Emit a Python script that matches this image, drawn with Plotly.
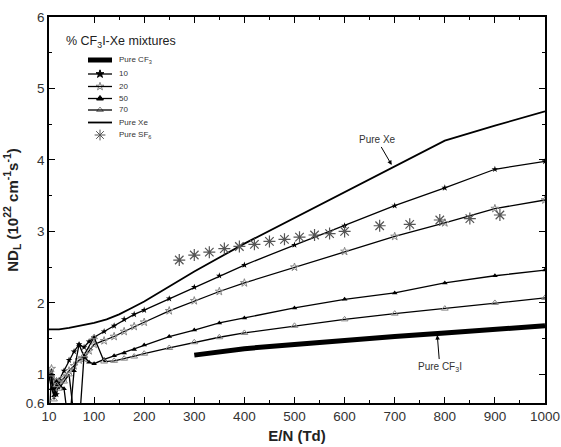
import plotly.graph_objects as go

# ---------------- data ----------------
x_10 = [10, 15, 20, 25, 30, 40, 50, 60, 70, 80, 90, 100, 120, 140, 160, 180, 200,
        250, 300, 350, 400, 500, 600, 700, 800, 900, 1000]
y_10 = [1.00, 0.98, 0.80, 0.72, 0.92, 1.05, 1.20, 1.32, 1.42, 1.38, 1.46, 1.52, 1.60, 1.68, 1.77, 1.84, 1.90,
        2.06, 2.22, 2.38, 2.53, 2.81, 3.08, 3.36, 3.61, 3.87, 3.98]

x_20 = [10, 15, 20, 25, 30, 40, 50, 60, 70, 80, 90, 100, 120, 140, 160, 180, 200,
        250, 300, 350, 400, 500, 600, 700, 800, 900, 1000]
y_20 = [0.95, 1.08, 0.92, 0.90, 0.88, 0.95, 1.05, 1.12, 1.20, 1.22, 1.33, 1.42, 1.47, 1.53, 1.60, 1.67, 1.73,
        1.89, 2.03, 2.16, 2.28, 2.50, 2.72, 2.93, 3.12, 3.32, 3.44]

x_50 = [10, 15, 20, 25, 30, 40, 50, 60, 70, 80, 90, 100, 120, 140, 160, 180, 200,
        250, 300, 350, 400, 500, 600, 700, 800, 900, 1000]
y_50 = [0.98, 0.80, 0.70, 0.90, 0.85, 0.80, 0.25, 1.05, 1.42, 1.25, 1.17, 1.15, 1.21, 1.26, 1.30, 1.35, 1.41,
        1.53, 1.62, 1.72, 1.79, 1.93, 2.05, 2.14, 2.28, 2.38, 2.46]

x_70 = [10, 15, 20, 25, 30, 40, 50, 60, 70, 80, 100, 120, 140, 160, 180, 200,
        250, 300, 350, 400, 500, 600, 700, 800, 900, 1000]
y_70 = [0.30, 1.00, 0.65, 0.85, 0.80, 0.90, 1.00, 0.40, 0.25, 1.27, 1.52, 1.18, 1.19, 1.22, 1.25, 1.29,
        1.37, 1.45, 1.52, 1.58, 1.68, 1.77, 1.85, 1.92, 2.00, 2.07]

x_xe = [10, 30, 50, 75, 100, 125, 150, 175, 200, 250, 300, 400, 500, 600, 700, 800, 900, 1000]
y_xe = [1.63, 1.63, 1.65, 1.68, 1.72, 1.77, 1.84, 1.93, 2.02, 2.23, 2.44, 2.83, 3.19, 3.55, 3.92, 4.27, 4.48, 4.68]

x_cf3i = [300, 350, 400, 500, 600, 700, 800, 900, 1000]
y_cf3i = [1.27, 1.32, 1.36, 1.42, 1.48, 1.53, 1.58, 1.63, 1.68]

x_sf6 = [270, 300, 330, 360, 390, 420, 450, 480, 510, 540, 570, 600, 670, 730, 790, 850, 910]
y_sf6 = [2.60, 2.67, 2.71, 2.76, 2.79, 2.82, 2.86, 2.89, 2.92, 2.95, 2.97, 3.00, 3.08, 3.10, 3.16, 3.18, 3.23]

x_ticks = [10, 100, 200, 300, 400, 500, 600, 700, 800, 900, 1000]
x_minor = [150, 250, 350, 450, 550, 650, 750, 850, 950]
y_ticks = [0.6, 1, 2, 3, 4, 5, 6]
y_minor = [1.5, 2.5, 3.5, 4.5, 5.5]

legend_labels = ["Pure CF<sub>3</sub>", "10", "20", "50", "70", "Pure Xe", "Pure SF<sub>6</sub>"]

# ---------------- figure ----------------
FONT = "Arial, Liberation Sans, sans-serif"
W, H = 561, 447
L, T = 49, 17
pw, ph = 496, 386
R, B = W - L - pw, H - T - ph

def px2paper(px, py):
    """page pixel -> paper coordinate"""
    return (px - L) / pw, (T + ph - py) / ph

fig = go.Figure()

line_k = dict(color="black", width=1.3)
fig.add_trace(go.Scatter(x=x_10, y=y_10, mode="lines+markers", line=line_k,
                         marker=dict(symbol="star", size=5, color="black"), showlegend=False))
fig.add_trace(go.Scatter(x=x_20, y=y_20, mode="lines+markers", line=line_k,
                         marker=dict(symbol="star-open", size=6, color="#888", line=dict(width=1)), showlegend=False))
fig.add_trace(go.Scatter(x=x_50, y=y_50, mode="lines+markers", line=line_k,
                         marker=dict(symbol="triangle-up", size=5, color="black"), showlegend=False))
fig.add_trace(go.Scatter(x=x_70, y=y_70, mode="lines+markers", line=line_k,
                         marker=dict(symbol="triangle-up-open", size=6, color="#888", line=dict(width=1)), showlegend=False))
fig.add_trace(go.Scatter(x=x_xe, y=y_xe, mode="lines", line=dict(color="black", width=1.8), showlegend=False))
fig.add_trace(go.Scatter(x=x_cf3i, y=y_cf3i, mode="lines", line=dict(color="black", width=5), showlegend=False))
fig.add_trace(go.Scatter(x=x_sf6, y=y_sf6, mode="markers",
                         marker=dict(symbol="asterisk-open", size=10, color="#555", line=dict(width=1.2, color="#555")),
                         showlegend=False))

# ---------------- manual legend ----------------
rows_py = [60, 74, 86.5, 98.5, 110, 122.5, 135]
lx0, _ = px2paper(88, 0)
lx1, _ = px2paper(112, 0)
mx, _ = px2paper(100, 0)
tx, _ = px2paper(117, 0)
line_widths = [5, 1.3, 1.3, 1.3, 1.3, 1.8, None]
symbols = [None, "star", "star-open", "triangle-up", "triangle-up-open", None, "asterisk-open"]
mcolors = [None, "black", "#888", "black", "#888", None, "#555"]
msizes = [None, 6, 6, 6, 6, None, 9]
for i, py in enumerate(rows_py):
    _, yy = px2paper(0, py)
    if line_widths[i]:
        fig.add_shape(type="line", xref="paper", yref="paper", x0=lx0, x1=lx1, y0=yy, y1=yy,
                      line=dict(color="black", width=line_widths[i]))
    if symbols[i]:
        fig.add_trace(go.Scatter(x=[mx], y=[yy], xaxis="x2", yaxis="y2", mode="markers",
                                 marker=dict(symbol=symbols[i], size=msizes[i], color=mcolors[i],
                                             line=dict(width=1, color=mcolors[i])),
                                 showlegend=False, hoverinfo="skip"))
    fig.add_annotation(x=tx, y=yy, xref="paper", yref="paper", text=legend_labels[i], showarrow=False,
                       xanchor="left", yanchor="middle", font=dict(family=FONT, size=8, color="#333"))

ttx, tty = px2paper(64, 42)
fig.add_annotation(x=ttx, y=tty, xref="paper", yref="paper", text="% CF<sub>3</sub>I-Xe mixtures",
                   showarrow=False, xanchor="left", yanchor="middle",
                   font=dict(family=FONT, size=12.5, color="#222"))

# ---------------- callouts ----------------
fig.add_annotation(x=694, y=3.93, ax=665, ay=4.28, axref="x", ayref="y", text="Pure Xe",
                   showarrow=True, arrowhead=2, arrowsize=0.9, arrowwidth=1, arrowcolor="black",
                   font=dict(family=FONT, size=10, color="#333"))
fig.add_annotation(x=785, y=1.55, ax=790, ay=1.11, axref="x", ayref="y", text="Pure CF<sub>3</sub>I",
                   showarrow=True, arrowhead=2, arrowsize=0.9, arrowwidth=1, arrowcolor="black",
                   font=dict(family=FONT, size=10, color="#333"))

axis_common = dict(showline=True, linecolor="black", linewidth=1.5, mirror="ticks",
                   ticks="inside", ticklen=6, tickwidth=1.2, tickcolor="black",
                   showgrid=False, zeroline=False, automargin=False, ticklabeloverflow="allow",
                   tickfont=dict(family=FONT, size=13.5, color="#333"))

fig.update_layout(
    width=W, height=H,
    margin=dict(l=L, r=R, t=T, b=B, pad=0, autoexpand=False),
    paper_bgcolor="white", plot_bgcolor="white",
    showlegend=False,
    xaxis=dict(range=[10, 1000], tickvals=x_ticks, ticktext=[str(v) for v in x_ticks],
               minor=dict(tickvals=x_minor, ticks="inside", ticklen=3, tickcolor="black", tickwidth=1.2),
               title=dict(text="<b>E/N (Td)</b>", font=dict(family=FONT, size=15, color="#222"), standoff=8),
               **axis_common),
    yaxis=dict(range=[0.6, 6], tickvals=y_ticks, ticktext=[str(v) for v in y_ticks],
               minor=dict(tickvals=y_minor, ticks="inside", ticklen=3, tickcolor="black", tickwidth=1.2),
               title=dict(text="<b>ND<sub>L</sub> (10<sup>22</sup> cm<sup>-1</sup>s<sup>-1</sup>)</b>",
                          font=dict(family=FONT, size=15, color="#222"), standoff=4),
               **axis_common),
    xaxis2=dict(overlaying="x", range=[0, 1], visible=False, fixedrange=True),
    yaxis2=dict(overlaying="y", range=[0, 1], visible=False, fixedrange=True),
)

# remove the default page margin so the 561x447 figure fills the window exactly
fig.write_html("out.html", config={"displayModeBar": False},
               post_script="document.body.style.margin='0';document.body.style.overflow='hidden';")
